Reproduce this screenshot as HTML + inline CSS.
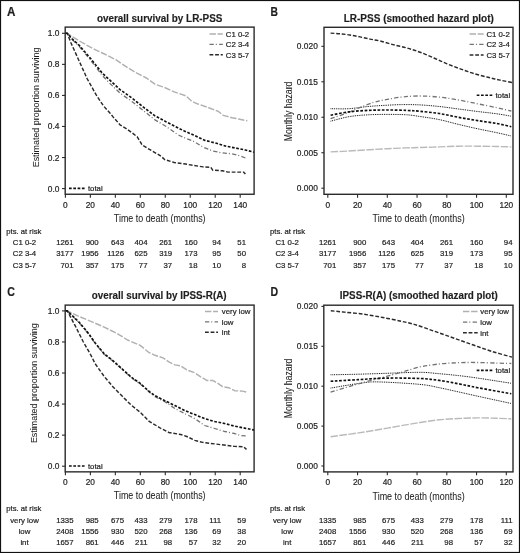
<!DOCTYPE html><html><head><meta charset="utf-8"><style>html,body{margin:0;padding:0;background:#fff}svg{display:block}text{font-family:"Liberation Sans",sans-serif;fill:#1e1e1e;stroke:#1e1e1e;stroke-width:0.2px}</style></head><body>
<svg width="520" height="553" viewBox="0 0 520 553">
<rect x="0" y="0" width="520" height="553" fill="#fff"/>
<g style="filter:blur(0.3px)">
<text x="0" y="0" font-size="12" font-weight="bold" fill="#111" transform="translate(6.9,15.8) scale(0.97,1)">A</text>
<text x="0" y="0" font-size="12" font-weight="bold" fill="#111" transform="translate(270.4,15.8) scale(0.86,1)">B</text>
<text x="0" y="0" font-size="12" font-weight="bold" fill="#111" transform="translate(7.2,295.6) scale(0.88,1)">C</text>
<text x="0" y="0" font-size="12" font-weight="bold" fill="#111" transform="translate(270.4,295.6) scale(0.88,1)">D</text>
<clipPath id="clip0"><rect x="65.2" y="27.1" width="188.89999999999998" height="167.15"/></clipPath>
<path d="M65.50,33.30 L67.30,33.40 L73.50,37.40 L81.20,42.00 L88.90,46.40 L96.60,50.30 L102.30,53.00 L115.80,59.70 L127.30,67.40 L136.90,73.20 L146.50,78.00 L155.00,84.20 L164.60,87.50 L174.20,91.90 L185.80,95.80 L191.50,101.00 L197.30,103.80 L208.80,107.70 L218.50,111.50 L223.30,115.40 L231.90,117.70 L239.60,119.20 L247.30,120.80" fill="none" stroke="#b0b0b0" stroke-width="1.45" stroke-dasharray="6.4 1.7" stroke-linejoin="round" clip-path="url(#clip0)"/>
<path d="M65.50,33.30 L67.30,33.40 L72.00,39.30 L79.20,46.30 L90.80,60.50 L102.30,75.50 L110.00,83.50 L120.00,93.10 L131.50,101.20 L143.10,110.40 L154.60,119.60 L166.20,126.50 L177.70,134.60 L183.80,137.50 L193.50,141.30 L203.10,147.10 L212.70,151.00 L222.30,152.90 L231.90,153.80 L239.60,155.80 L247.30,158.70" fill="none" stroke="#737373" stroke-width="1.3" stroke-dasharray="4.3 2 1 2.3" stroke-linejoin="round" clip-path="url(#clip0)"/>
<path d="M65.50,33.30 L67.30,33.40 L70.80,42.50 L78.10,58.70 L87.10,78.60 L96.20,94.90 L103.40,105.80 L109.90,113.00 L113.10,116.90 L120.00,124.80 L125.80,128.30 L131.50,132.30 L137.30,136.90 L140.80,142.70 L141.90,144.80 L151.50,150.60 L161.20,156.30 L164.60,159.60 L166.90,160.20 L174.20,162.50 L183.80,163.80 L193.50,165.40 L203.10,166.90 L210.80,167.30 L212.70,170.20 L222.30,170.80 L228.10,172.10 L243.50,172.10 L245.40,174.00" fill="none" stroke="#2a2a2a" stroke-width="1.45" stroke-dasharray="3.8 1.8" stroke-linejoin="round" clip-path="url(#clip0)"/>
<path d="M65.50,33.30 L67.30,33.40 L72.00,38.80 L79.20,45.30 L90.80,58.80 L102.30,73.20 L113.80,83.80 L120.00,89.60 L131.50,97.70 L143.10,106.90 L154.60,115.60 L166.20,121.90 L177.70,127.70 L183.80,130.80 L193.50,135.00 L205.00,140.40 L216.50,143.30 L226.20,146.20 L235.80,148.10 L245.40,150.00 L254.00,152.20" fill="none" stroke="#111" stroke-width="1.65" stroke-dasharray="2.7 1.6" stroke-linejoin="round" clip-path="url(#clip0)"/>
<rect x="65.2" y="27.1" width="188.89999999999998" height="167.15" fill="none" stroke="#2a2a2a" stroke-width="1.4"/>
<line x1="62.00" y1="188.60" x2="65.20" y2="188.60" stroke="#2a2a2a" stroke-width="1.1" />
<text x="59.40" y="191.60" font-size="8.4" text-anchor="end" >0.0</text>
<line x1="62.00" y1="157.54" x2="65.20" y2="157.54" stroke="#2a2a2a" stroke-width="1.1" />
<text x="59.40" y="160.54" font-size="8.4" text-anchor="end" >0.2</text>
<line x1="62.00" y1="126.48" x2="65.20" y2="126.48" stroke="#2a2a2a" stroke-width="1.1" />
<text x="59.40" y="129.48" font-size="8.4" text-anchor="end" >0.4</text>
<line x1="62.00" y1="95.42" x2="65.20" y2="95.42" stroke="#2a2a2a" stroke-width="1.1" />
<text x="59.40" y="98.42" font-size="8.4" text-anchor="end" >0.6</text>
<line x1="62.00" y1="64.36" x2="65.20" y2="64.36" stroke="#2a2a2a" stroke-width="1.1" />
<text x="59.40" y="67.36" font-size="8.4" text-anchor="end" >0.8</text>
<line x1="62.00" y1="33.30" x2="65.20" y2="33.30" stroke="#2a2a2a" stroke-width="1.1" />
<text x="59.40" y="36.30" font-size="8.4" text-anchor="end" >1.0</text>
<line x1="65.40" y1="194.25" x2="65.40" y2="197.65" stroke="#2a2a2a" stroke-width="1.1" />
<text x="65.40" y="207.80" font-size="8.3" text-anchor="middle" >0</text>
<line x1="90.37" y1="194.25" x2="90.37" y2="197.65" stroke="#2a2a2a" stroke-width="1.1" />
<text x="90.37" y="207.80" font-size="8.3" text-anchor="middle" >20</text>
<line x1="115.34" y1="194.25" x2="115.34" y2="197.65" stroke="#2a2a2a" stroke-width="1.1" />
<text x="115.34" y="207.80" font-size="8.3" text-anchor="middle" >40</text>
<line x1="140.31" y1="194.25" x2="140.31" y2="197.65" stroke="#2a2a2a" stroke-width="1.1" />
<text x="140.31" y="207.80" font-size="8.3" text-anchor="middle" >60</text>
<line x1="165.28" y1="194.25" x2="165.28" y2="197.65" stroke="#2a2a2a" stroke-width="1.1" />
<text x="165.28" y="207.80" font-size="8.3" text-anchor="middle" >80</text>
<line x1="190.25" y1="194.25" x2="190.25" y2="197.65" stroke="#2a2a2a" stroke-width="1.1" />
<text x="190.25" y="207.80" font-size="8.3" text-anchor="middle" >100</text>
<line x1="215.22" y1="194.25" x2="215.22" y2="197.65" stroke="#2a2a2a" stroke-width="1.1" />
<text x="215.22" y="207.80" font-size="8.3" text-anchor="middle" >120</text>
<line x1="240.19" y1="194.25" x2="240.19" y2="197.65" stroke="#2a2a2a" stroke-width="1.1" />
<text x="240.19" y="207.80" font-size="8.3" text-anchor="middle" >140</text>
<text x="159.70" y="21.80" font-size="10.2" text-anchor="middle" font-weight="bold" textLength="125.5" lengthAdjust="spacingAndGlyphs" style="stroke-width:0.15px">overall survival by LR-PSS</text>
<text x="159.70" y="221.60" font-size="10.3" text-anchor="middle" textLength="91.7" lengthAdjust="spacingAndGlyphs" style="stroke-width:0.05px">Time to death (months)</text>
<text x="0" y="0" font-size="9.9" text-anchor="middle" textLength="119.8" lengthAdjust="spacingAndGlyphs" style="stroke-width:0.05px" transform="translate(38.5,107.40) rotate(-90)">Estimated proportion surviving</text>
<line x1="209.5" y1="33.9" x2="222.8" y2="33.9" stroke="#b0b0b0" stroke-width="1.45" stroke-dasharray="6.4 1.7"/>
<text x="225.80" y="36.70" font-size="7.8" text-anchor="start" >C1 0-2</text>
<line x1="209.5" y1="44.3" x2="222.8" y2="44.3" stroke="#737373" stroke-width="1.3" stroke-dasharray="4.3 2 1 2.3"/>
<text x="225.80" y="47.10" font-size="7.8" text-anchor="start" >C2 3-4</text>
<line x1="209.5" y1="54.7" x2="222.8" y2="54.7" stroke="#2a2a2a" stroke-width="1.45" stroke-dasharray="3.8 1.8"/>
<text x="225.80" y="57.50" font-size="7.8" text-anchor="start" >C3 5-7</text>
<line x1="69.0" y1="188.4" x2="84.8" y2="188.4" stroke="#111" stroke-width="1.65" stroke-dasharray="2.7 1.6"/>
<text x="87.90" y="191.20" font-size="7.8" text-anchor="start" >total</text>
<text x="6.30" y="233.80" font-size="7.7" text-anchor="start" >pts. at risk</text>
<text x="24.50" y="245.20" font-size="7.8" text-anchor="middle" >C1 0-2</text>
<text x="73.50" y="245.20" font-size="7.8" text-anchor="end" >1261</text>
<text x="98.70" y="245.20" font-size="7.8" text-anchor="end" >900</text>
<text x="124.00" y="245.20" font-size="7.8" text-anchor="end" >643</text>
<text x="147.50" y="245.20" font-size="7.8" text-anchor="end" >404</text>
<text x="172.20" y="245.20" font-size="7.8" text-anchor="end" >261</text>
<text x="197.50" y="245.20" font-size="7.8" text-anchor="end" >160</text>
<text x="221.00" y="245.20" font-size="7.8" text-anchor="end" >94</text>
<text x="246.00" y="245.20" font-size="7.8" text-anchor="end" >51</text>
<text x="24.50" y="256.45" font-size="7.8" text-anchor="middle" >C2 3-4</text>
<text x="73.50" y="256.45" font-size="7.8" text-anchor="end" >3177</text>
<text x="98.70" y="256.45" font-size="7.8" text-anchor="end" >1956</text>
<text x="124.00" y="256.45" font-size="7.8" text-anchor="end" >1126</text>
<text x="147.50" y="256.45" font-size="7.8" text-anchor="end" >625</text>
<text x="172.20" y="256.45" font-size="7.8" text-anchor="end" >319</text>
<text x="197.50" y="256.45" font-size="7.8" text-anchor="end" >173</text>
<text x="221.00" y="256.45" font-size="7.8" text-anchor="end" >95</text>
<text x="246.00" y="256.45" font-size="7.8" text-anchor="end" >50</text>
<text x="24.50" y="267.70" font-size="7.8" text-anchor="middle" >C3 5-7</text>
<text x="73.50" y="267.70" font-size="7.8" text-anchor="end" >701</text>
<text x="98.70" y="267.70" font-size="7.8" text-anchor="end" >357</text>
<text x="124.00" y="267.70" font-size="7.8" text-anchor="end" >175</text>
<text x="147.50" y="267.70" font-size="7.8" text-anchor="end" >77</text>
<text x="172.20" y="267.70" font-size="7.8" text-anchor="end" >37</text>
<text x="197.50" y="267.70" font-size="7.8" text-anchor="end" >18</text>
<text x="221.00" y="267.70" font-size="7.8" text-anchor="end" >10</text>
<text x="246.00" y="267.70" font-size="7.8" text-anchor="end" >8</text>
<clipPath id="clip277"><rect x="65.2" y="305.1" width="188.89999999999998" height="166.75"/></clipPath>
<path d="M65.50,310.80 L67.30,310.90 L79.20,316.50 L90.80,321.30 L104.20,327.10 L117.70,333.80 L127.50,340.00 L140.20,345.40 L149.20,352.70 L155.00,355.30 L163.00,357.90 L168.90,361.90 L174.90,364.90 L180.80,365.90 L186.80,369.90 L194.80,372.80 L200.70,376.80 L206.70,380.40 L212.70,380.40 L218.60,383.80 L222.60,386.70 L228.60,387.70 L234.50,390.70 L242.50,391.10 L247.40,392.30" fill="none" stroke="#b0b0b0" stroke-width="1.45" stroke-dasharray="6.4 1.7" stroke-linejoin="round" clip-path="url(#clip277)"/>
<path d="M65.50,310.80 L67.30,310.90 L79.20,322.80 L88.80,334.30 L95.00,343.20 L104.00,354.10 L113.10,361.30 L122.10,369.40 L131.20,377.60 L140.20,384.00 L149.20,392.00 L155.00,396.70 L164.90,401.70 L174.90,408.60 L184.80,413.60 L194.80,418.60 L204.70,425.50 L214.60,428.50 L224.60,431.50 L234.50,433.50 L240.50,435.50 L247.40,435.90" fill="none" stroke="#737373" stroke-width="1.3" stroke-dasharray="4.3 2 1 2.3" stroke-linejoin="round" clip-path="url(#clip277)"/>
<path d="M65.50,310.80 L67.30,310.90 L75.40,326.20 L83.10,341.50 L90.80,355.00 L95.00,363.50 L104.00,376.20 L113.10,387.00 L122.10,396.10 L131.20,405.10 L140.20,412.30 L149.20,421.40 L158.30,426.80 L161.00,428.50 L168.90,432.50 L180.80,434.50 L186.80,436.50 L194.80,440.40 L202.70,442.40 L210.70,443.40 L218.60,444.40 L226.60,445.40 L234.50,446.40 L243.50,446.80 L246.50,449.40" fill="none" stroke="#2a2a2a" stroke-width="1.45" stroke-dasharray="3.8 1.8" stroke-linejoin="round" clip-path="url(#clip277)"/>
<path d="M65.50,310.80 L67.30,310.90 L79.20,322.30 L88.80,333.80 L95.00,342.70 L104.00,353.60 L113.10,360.80 L122.10,368.90 L131.20,377.10 L140.20,383.40 L149.20,391.50 L155.00,395.70 L164.90,400.70 L174.90,405.60 L184.80,410.60 L194.80,414.60 L204.70,418.60 L214.60,421.50 L224.60,423.50 L234.50,426.10 L244.50,428.10 L254.40,430.10" fill="none" stroke="#111" stroke-width="1.65" stroke-dasharray="2.7 1.6" stroke-linejoin="round" clip-path="url(#clip277)"/>
<rect x="65.2" y="305.1" width="188.89999999999998" height="166.75" fill="none" stroke="#2a2a2a" stroke-width="1.4"/>
<line x1="62.00" y1="466.20" x2="65.20" y2="466.20" stroke="#2a2a2a" stroke-width="1.1" />
<text x="59.40" y="469.20" font-size="8.4" text-anchor="end" >0.0</text>
<line x1="62.00" y1="435.14" x2="65.20" y2="435.14" stroke="#2a2a2a" stroke-width="1.1" />
<text x="59.40" y="438.14" font-size="8.4" text-anchor="end" >0.2</text>
<line x1="62.00" y1="404.08" x2="65.20" y2="404.08" stroke="#2a2a2a" stroke-width="1.1" />
<text x="59.40" y="407.08" font-size="8.4" text-anchor="end" >0.4</text>
<line x1="62.00" y1="373.02" x2="65.20" y2="373.02" stroke="#2a2a2a" stroke-width="1.1" />
<text x="59.40" y="376.02" font-size="8.4" text-anchor="end" >0.6</text>
<line x1="62.00" y1="341.96" x2="65.20" y2="341.96" stroke="#2a2a2a" stroke-width="1.1" />
<text x="59.40" y="344.96" font-size="8.4" text-anchor="end" >0.8</text>
<line x1="62.00" y1="310.90" x2="65.20" y2="310.90" stroke="#2a2a2a" stroke-width="1.1" />
<text x="59.40" y="313.90" font-size="8.4" text-anchor="end" >1.0</text>
<line x1="65.40" y1="471.85" x2="65.40" y2="475.25" stroke="#2a2a2a" stroke-width="1.1" />
<text x="65.40" y="485.40" font-size="8.3" text-anchor="middle" >0</text>
<line x1="90.37" y1="471.85" x2="90.37" y2="475.25" stroke="#2a2a2a" stroke-width="1.1" />
<text x="90.37" y="485.40" font-size="8.3" text-anchor="middle" >20</text>
<line x1="115.34" y1="471.85" x2="115.34" y2="475.25" stroke="#2a2a2a" stroke-width="1.1" />
<text x="115.34" y="485.40" font-size="8.3" text-anchor="middle" >40</text>
<line x1="140.31" y1="471.85" x2="140.31" y2="475.25" stroke="#2a2a2a" stroke-width="1.1" />
<text x="140.31" y="485.40" font-size="8.3" text-anchor="middle" >60</text>
<line x1="165.28" y1="471.85" x2="165.28" y2="475.25" stroke="#2a2a2a" stroke-width="1.1" />
<text x="165.28" y="485.40" font-size="8.3" text-anchor="middle" >80</text>
<line x1="190.25" y1="471.85" x2="190.25" y2="475.25" stroke="#2a2a2a" stroke-width="1.1" />
<text x="190.25" y="485.40" font-size="8.3" text-anchor="middle" >100</text>
<line x1="215.22" y1="471.85" x2="215.22" y2="475.25" stroke="#2a2a2a" stroke-width="1.1" />
<text x="215.22" y="485.40" font-size="8.3" text-anchor="middle" >120</text>
<line x1="240.19" y1="471.85" x2="240.19" y2="475.25" stroke="#2a2a2a" stroke-width="1.1" />
<text x="240.19" y="485.40" font-size="8.3" text-anchor="middle" >140</text>
<text x="159.20" y="299.40" font-size="10.2" text-anchor="middle" font-weight="bold" textLength="134.8" lengthAdjust="spacingAndGlyphs" style="stroke-width:0.15px">overall survival by IPSS-R(A)</text>
<text x="159.70" y="499.20" font-size="10.3" text-anchor="middle" textLength="91.7" lengthAdjust="spacingAndGlyphs" style="stroke-width:0.05px">Time to death (months)</text>
<text x="0" y="0" font-size="9.9" text-anchor="middle" textLength="119.8" lengthAdjust="spacingAndGlyphs" style="stroke-width:0.05px" transform="translate(36.7,383.20) rotate(-90)">Estimated proportion surviving</text>
<line x1="205.0" y1="311.5" x2="218.0" y2="311.5" stroke="#b0b0b0" stroke-width="1.45" stroke-dasharray="6.4 1.7"/>
<text x="221.80" y="314.30" font-size="7.8" text-anchor="start" >very low</text>
<line x1="205.0" y1="321.9" x2="218.0" y2="321.9" stroke="#737373" stroke-width="1.3" stroke-dasharray="4.3 2 1 2.3"/>
<text x="221.80" y="324.70" font-size="7.8" text-anchor="start" >low</text>
<line x1="205.0" y1="332.3" x2="218.0" y2="332.3" stroke="#2a2a2a" stroke-width="1.45" stroke-dasharray="3.8 1.8"/>
<text x="221.80" y="335.10" font-size="7.8" text-anchor="start" >int</text>
<line x1="69.0" y1="466.0" x2="84.8" y2="466.0" stroke="#111" stroke-width="1.65" stroke-dasharray="2.7 1.6"/>
<text x="87.90" y="468.80" font-size="7.8" text-anchor="start" >total</text>
<text x="6.30" y="511.40" font-size="7.7" text-anchor="start" >pts. at risk</text>
<text x="24.50" y="522.80" font-size="7.8" text-anchor="middle" >very low</text>
<text x="73.50" y="522.80" font-size="7.8" text-anchor="end" >1335</text>
<text x="98.70" y="522.80" font-size="7.8" text-anchor="end" >985</text>
<text x="124.00" y="522.80" font-size="7.8" text-anchor="end" >675</text>
<text x="147.50" y="522.80" font-size="7.8" text-anchor="end" >433</text>
<text x="172.20" y="522.80" font-size="7.8" text-anchor="end" >279</text>
<text x="197.50" y="522.80" font-size="7.8" text-anchor="end" >178</text>
<text x="221.00" y="522.80" font-size="7.8" text-anchor="end" >111</text>
<text x="246.00" y="522.80" font-size="7.8" text-anchor="end" >59</text>
<text x="24.50" y="534.05" font-size="7.8" text-anchor="middle" >low</text>
<text x="73.50" y="534.05" font-size="7.8" text-anchor="end" >2408</text>
<text x="98.70" y="534.05" font-size="7.8" text-anchor="end" >1556</text>
<text x="124.00" y="534.05" font-size="7.8" text-anchor="end" >930</text>
<text x="147.50" y="534.05" font-size="7.8" text-anchor="end" >520</text>
<text x="172.20" y="534.05" font-size="7.8" text-anchor="end" >268</text>
<text x="197.50" y="534.05" font-size="7.8" text-anchor="end" >136</text>
<text x="221.00" y="534.05" font-size="7.8" text-anchor="end" >69</text>
<text x="246.00" y="534.05" font-size="7.8" text-anchor="end" >38</text>
<text x="24.50" y="545.30" font-size="7.8" text-anchor="middle" >int</text>
<text x="73.50" y="545.30" font-size="7.8" text-anchor="end" >1657</text>
<text x="98.70" y="545.30" font-size="7.8" text-anchor="end" >861</text>
<text x="124.00" y="545.30" font-size="7.8" text-anchor="end" >446</text>
<text x="147.50" y="545.30" font-size="7.8" text-anchor="end" >211</text>
<text x="172.20" y="545.30" font-size="7.8" text-anchor="end" >98</text>
<text x="197.50" y="545.30" font-size="7.8" text-anchor="end" >57</text>
<text x="221.00" y="545.30" font-size="7.8" text-anchor="end" >32</text>
<text x="246.00" y="545.30" font-size="7.8" text-anchor="end" >20</text>
<clipPath id="hclip0"><rect x="324.0" y="27.3" width="189.0" height="167.0"/></clipPath>
<path d="M330.60,151.90 C333.63,151.75 342.55,151.35 348.80,151.00 C355.05,150.65 361.68,150.18 368.10,149.80 C374.52,149.42 380.90,149.02 387.30,148.70 C393.70,148.38 401.05,148.10 406.50,147.90 C411.95,147.70 414.55,147.67 420.00,147.50 C425.45,147.33 432.78,147.12 439.20,146.90 C445.62,146.68 452.08,146.32 458.50,146.20 C464.92,146.08 471.30,146.15 477.70,146.20 C484.10,146.25 491.30,146.38 496.90,146.50 C502.50,146.62 508.90,146.83 511.30,146.90" fill="none" stroke="#bababa" stroke-width="1.4" stroke-dasharray="7.5 1.45" stroke-linejoin="round" clip-path="url(#hclip0)"/>
<path d="M330.60,108.70 C333.63,108.70 342.55,109.07 348.80,108.70 C355.05,108.33 361.68,107.08 368.10,106.50 C374.52,105.92 381.53,105.52 387.30,105.20 C393.07,104.88 397.25,104.65 402.70,104.60 C408.15,104.55 413.92,104.58 420.00,104.90 C426.08,105.22 432.78,105.82 439.20,106.50 C445.62,107.18 452.08,108.17 458.50,109.00 C464.92,109.83 471.30,110.70 477.70,111.50 C484.10,112.30 491.30,113.02 496.90,113.80 C502.50,114.58 508.90,115.80 511.30,116.20" fill="none" stroke="#000" stroke-width="1.0" stroke-dasharray="0.9 0.9" stroke-linejoin="round" clip-path="url(#hclip0)"/>
<path d="M330.60,121.20 C333.63,120.45 342.55,117.77 348.80,116.70 C355.05,115.63 361.68,115.18 368.10,114.80 C374.52,114.42 380.90,114.40 387.30,114.40 C393.70,114.40 401.05,114.45 406.50,114.80 C411.95,115.15 414.55,115.70 420.00,116.50 C425.45,117.30 432.78,118.28 439.20,119.60 C445.62,120.92 452.08,122.87 458.50,124.40 C464.92,125.93 471.30,127.42 477.70,128.80 C484.10,130.18 491.30,131.50 496.90,132.70 C502.50,133.90 508.90,135.45 511.30,136.00" fill="none" stroke="#000" stroke-width="1.0" stroke-dasharray="0.9 0.9" stroke-linejoin="round" clip-path="url(#hclip0)"/>
<path d="M330.60,118.70 C333.00,117.88 340.35,115.57 345.00,113.80 C349.65,112.03 353.70,110.02 358.50,108.10 C363.30,106.18 369.00,103.75 373.80,102.30 C378.60,100.85 382.48,100.30 387.30,99.40 C392.12,98.50 397.25,97.47 402.70,96.90 C408.15,96.33 413.92,95.97 420.00,96.00 C426.08,96.03 432.78,96.43 439.20,97.10 C445.62,97.77 452.08,98.88 458.50,100.00 C464.92,101.12 471.30,102.52 477.70,103.80 C484.10,105.08 491.30,106.50 496.90,107.70 C502.50,108.90 508.90,110.45 511.30,111.00" fill="none" stroke="#737373" stroke-width="1.3" stroke-dasharray="4.3 2 1 2.3" stroke-linejoin="round" clip-path="url(#hclip0)"/>
<path d="M330.60,115.20 C333.63,114.65 342.55,112.70 348.80,111.90 C355.05,111.10 361.68,110.72 368.10,110.40 C374.52,110.08 380.90,110.00 387.30,110.00 C393.70,110.00 401.05,110.18 406.50,110.40 C411.95,110.62 414.55,110.78 420.00,111.30 C425.45,111.82 432.78,112.50 439.20,113.50 C445.62,114.50 452.08,116.12 458.50,117.30 C464.92,118.48 471.30,119.57 477.70,120.60 C484.10,121.63 491.30,122.48 496.90,123.50 C502.50,124.52 508.90,126.17 511.30,126.70" fill="none" stroke="#111" stroke-width="1.65" stroke-dasharray="2.7 1.6" stroke-linejoin="round" clip-path="url(#hclip0)"/>
<path d="M330.60,33.10 C332.17,33.22 336.77,33.48 340.00,33.80 C343.23,34.12 346.67,34.48 350.00,35.00 C353.33,35.52 356.67,36.22 360.00,36.90 C363.33,37.58 366.67,38.42 370.00,39.10 C373.33,39.78 376.17,40.08 380.00,41.00 C383.83,41.92 388.50,43.43 393.00,44.60 C397.50,45.77 402.50,46.73 407.00,48.00 C411.50,49.27 415.50,50.53 420.00,52.20 C424.50,53.87 429.50,56.07 434.00,58.00 C438.50,59.93 442.50,61.95 447.00,63.80 C451.50,65.65 456.50,67.47 461.00,69.10 C465.50,70.73 469.50,72.23 474.00,73.60 C478.50,74.97 483.67,76.22 488.00,77.30 C492.33,78.38 495.83,79.20 500.00,80.10 C504.17,81.00 510.83,82.27 513.00,82.70" fill="none" stroke="#2a2a2a" stroke-width="1.45" stroke-dasharray="3.8 1.8" stroke-linejoin="round" clip-path="url(#hclip0)"/>
<rect x="324.0" y="27.3" width="189.0" height="167.0" fill="none" stroke="#2a2a2a" stroke-width="1.4"/>
<line x1="321.40" y1="188.20" x2="324.00" y2="188.20" stroke="#2a2a2a" stroke-width="1.1" />
<text x="317.80" y="191.20" font-size="8.4" text-anchor="end" >0.000</text>
<line x1="321.40" y1="152.73" x2="324.00" y2="152.73" stroke="#2a2a2a" stroke-width="1.1" />
<text x="317.80" y="155.73" font-size="8.4" text-anchor="end" >0.005</text>
<line x1="321.40" y1="117.26" x2="324.00" y2="117.26" stroke="#2a2a2a" stroke-width="1.1" />
<text x="317.80" y="120.26" font-size="8.4" text-anchor="end" >0.010</text>
<line x1="321.40" y1="81.79" x2="324.00" y2="81.79" stroke="#2a2a2a" stroke-width="1.1" />
<text x="317.80" y="84.79" font-size="8.4" text-anchor="end" >0.015</text>
<line x1="321.40" y1="46.32" x2="324.00" y2="46.32" stroke="#2a2a2a" stroke-width="1.1" />
<text x="317.80" y="49.32" font-size="8.4" text-anchor="end" >0.020</text>
<line x1="327.80" y1="194.30" x2="327.80" y2="197.70" stroke="#2a2a2a" stroke-width="1.1" />
<text x="327.80" y="207.80" font-size="8.3" text-anchor="middle" >0</text>
<line x1="357.55" y1="194.30" x2="357.55" y2="197.70" stroke="#2a2a2a" stroke-width="1.1" />
<text x="357.55" y="207.80" font-size="8.3" text-anchor="middle" >20</text>
<line x1="387.30" y1="194.30" x2="387.30" y2="197.70" stroke="#2a2a2a" stroke-width="1.1" />
<text x="387.30" y="207.80" font-size="8.3" text-anchor="middle" >40</text>
<line x1="417.05" y1="194.30" x2="417.05" y2="197.70" stroke="#2a2a2a" stroke-width="1.1" />
<text x="417.05" y="207.80" font-size="8.3" text-anchor="middle" >60</text>
<line x1="446.80" y1="194.30" x2="446.80" y2="197.70" stroke="#2a2a2a" stroke-width="1.1" />
<text x="446.80" y="207.80" font-size="8.3" text-anchor="middle" >80</text>
<line x1="476.55" y1="194.30" x2="476.55" y2="197.70" stroke="#2a2a2a" stroke-width="1.1" />
<text x="476.55" y="207.80" font-size="8.3" text-anchor="middle" >100</text>
<line x1="506.30" y1="194.30" x2="506.30" y2="197.70" stroke="#2a2a2a" stroke-width="1.1" />
<text x="506.30" y="207.80" font-size="8.3" text-anchor="middle" >120</text>
<text x="418.80" y="21.80" font-size="10.2" text-anchor="middle" font-weight="bold" textLength="150.2" lengthAdjust="spacingAndGlyphs" style="stroke-width:0.15px">LR-PSS (smoothed hazard plot)</text>
<text x="418.60" y="221.90" font-size="10.3" text-anchor="middle" textLength="92.1" lengthAdjust="spacingAndGlyphs" style="stroke-width:0.05px">Time to death (months)</text>
<text x="0" y="0" font-size="10.3" text-anchor="middle" textLength="59.8" lengthAdjust="spacingAndGlyphs" style="stroke-width:0.05px" transform="translate(291.6,111.45) rotate(-90)">Monthly hazard</text>
<line x1="469.6" y1="33.9" x2="483.6" y2="33.9" stroke="#b0b0b0" stroke-width="1.45" stroke-dasharray="6.4 1.7"/>
<text x="486.40" y="36.70" font-size="7.8" text-anchor="start" >C1 0-2</text>
<line x1="469.6" y1="44.4" x2="483.6" y2="44.4" stroke="#737373" stroke-width="1.3" stroke-dasharray="4.3 2 1 2.3"/>
<text x="486.40" y="47.20" font-size="7.8" text-anchor="start" >C2 3-4</text>
<line x1="469.6" y1="54.9" x2="483.6" y2="54.9" stroke="#2a2a2a" stroke-width="1.45" stroke-dasharray="3.8 1.8"/>
<text x="486.40" y="57.70" font-size="7.8" text-anchor="start" >C3 5-7</text>
<line x1="476.7" y1="95.2" x2="492.4" y2="95.2" stroke="#111" stroke-width="1.65" stroke-dasharray="2.7 1.6"/>
<text x="495.40" y="98.00" font-size="7.8" text-anchor="start" >total</text>
<text x="270.00" y="233.80" font-size="7.7" text-anchor="start" >pts. at risk</text>
<text x="287.20" y="245.20" font-size="7.8" text-anchor="middle" >C1 0-2</text>
<text x="336.30" y="245.20" font-size="7.8" text-anchor="end" >1261</text>
<text x="366.30" y="245.20" font-size="7.8" text-anchor="end" >900</text>
<text x="395.00" y="245.20" font-size="7.8" text-anchor="end" >643</text>
<text x="423.80" y="245.20" font-size="7.8" text-anchor="end" >404</text>
<text x="453.00" y="245.20" font-size="7.8" text-anchor="end" >261</text>
<text x="483.00" y="245.20" font-size="7.8" text-anchor="end" >160</text>
<text x="512.50" y="245.20" font-size="7.8" text-anchor="end" >94</text>
<text x="287.20" y="256.45" font-size="7.8" text-anchor="middle" >C2 3-4</text>
<text x="336.30" y="256.45" font-size="7.8" text-anchor="end" >3177</text>
<text x="366.30" y="256.45" font-size="7.8" text-anchor="end" >1956</text>
<text x="395.00" y="256.45" font-size="7.8" text-anchor="end" >1126</text>
<text x="423.80" y="256.45" font-size="7.8" text-anchor="end" >625</text>
<text x="453.00" y="256.45" font-size="7.8" text-anchor="end" >319</text>
<text x="483.00" y="256.45" font-size="7.8" text-anchor="end" >173</text>
<text x="512.50" y="256.45" font-size="7.8" text-anchor="end" >95</text>
<text x="287.20" y="267.70" font-size="7.8" text-anchor="middle" >C3 5-7</text>
<text x="336.30" y="267.70" font-size="7.8" text-anchor="end" >701</text>
<text x="366.30" y="267.70" font-size="7.8" text-anchor="end" >357</text>
<text x="395.00" y="267.70" font-size="7.8" text-anchor="end" >175</text>
<text x="423.80" y="267.70" font-size="7.8" text-anchor="end" >77</text>
<text x="453.00" y="267.70" font-size="7.8" text-anchor="end" >37</text>
<text x="483.00" y="267.70" font-size="7.8" text-anchor="end" >18</text>
<text x="512.50" y="267.70" font-size="7.8" text-anchor="end" >10</text>
<clipPath id="hclip277"><rect x="323.8" y="305.20000000000005" width="189.2" height="166.7"/></clipPath>
<path d="M330.60,436.70 C335.25,436.07 349.05,434.33 358.50,432.90 C367.95,431.47 377.05,429.83 387.30,428.10 C397.55,426.37 411.35,423.88 420.00,422.50 C428.65,421.12 432.78,420.47 439.20,419.80 C445.62,419.13 452.08,418.82 458.50,418.50 C464.92,418.18 471.30,417.93 477.70,417.90 C484.10,417.87 491.30,418.15 496.90,418.30 C502.50,418.45 508.90,418.72 511.30,418.80" fill="none" stroke="#bababa" stroke-width="1.4" stroke-dasharray="7.5 1.45" stroke-linejoin="round" clip-path="url(#hclip277)"/>
<path d="M330.60,374.80 C335.25,374.70 349.05,374.45 358.50,374.20 C367.95,373.95 377.05,373.62 387.30,373.30 C397.55,372.98 411.35,372.23 420.00,372.30 C428.65,372.37 432.78,373.15 439.20,373.70 C445.62,374.25 452.08,374.87 458.50,375.60 C464.92,376.33 468.90,376.82 477.70,378.10 C486.50,379.38 505.70,382.43 511.30,383.30" fill="none" stroke="#000" stroke-width="1.0" stroke-dasharray="0.9 0.9" stroke-linejoin="round" clip-path="url(#hclip277)"/>
<path d="M330.60,388.10 C335.25,387.33 350.65,384.53 358.50,383.50 C366.35,382.47 367.45,381.75 377.70,381.90 C387.95,382.05 409.75,383.43 420.00,384.40 C430.25,385.37 432.78,386.45 439.20,387.70 C445.62,388.95 452.08,390.48 458.50,391.90 C464.92,393.32 468.90,394.27 477.70,396.20 C486.50,398.13 505.70,402.28 511.30,403.50" fill="none" stroke="#000" stroke-width="1.0" stroke-dasharray="0.9 0.9" stroke-linejoin="round" clip-path="url(#hclip277)"/>
<path d="M330.60,392.10 C335.25,390.72 349.05,386.45 358.50,383.80 C367.95,381.15 379.93,378.18 387.30,376.20 C394.67,374.22 397.25,373.45 402.70,371.90 C408.15,370.35 413.92,368.22 420.00,366.90 C426.08,365.58 432.78,364.70 439.20,364.00 C445.62,363.30 452.08,362.95 458.50,362.70 C464.92,362.45 471.30,362.43 477.70,362.50 C484.10,362.57 491.30,362.93 496.90,363.10 C502.50,363.27 508.90,363.43 511.30,363.50" fill="none" stroke="#737373" stroke-width="1.3" stroke-dasharray="4.3 2 1 2.3" stroke-linejoin="round" clip-path="url(#hclip277)"/>
<path d="M330.60,381.30 C335.25,381.02 349.05,380.13 358.50,379.60 C367.95,379.07 377.05,378.28 387.30,378.10 C397.55,377.92 411.35,378.12 420.00,378.50 C428.65,378.88 432.78,379.52 439.20,380.40 C445.62,381.28 452.08,382.58 458.50,383.80 C464.92,385.02 468.90,386.03 477.70,387.70 C486.50,389.37 505.70,392.78 511.30,393.80" fill="none" stroke="#111" stroke-width="1.65" stroke-dasharray="2.7 1.6" stroke-linejoin="round" clip-path="url(#hclip277)"/>
<path d="M330.80,310.80 C333.03,311.02 338.75,311.53 344.20,312.10 C349.65,312.67 357.08,313.30 363.50,314.20 C369.92,315.10 376.30,316.30 382.70,317.50 C389.10,318.70 396.52,320.22 401.90,321.40 C407.28,322.58 409.62,322.97 415.00,324.60 C420.38,326.23 427.78,328.97 434.20,331.20 C440.62,333.43 447.08,335.73 453.50,338.00 C459.92,340.27 466.30,342.57 472.70,344.80 C479.10,347.03 485.35,349.35 491.90,351.40 C498.45,353.45 508.65,356.15 512.00,357.10" fill="none" stroke="#2a2a2a" stroke-width="1.45" stroke-dasharray="3.8 1.8" stroke-linejoin="round" clip-path="url(#hclip277)"/>
<rect x="323.8" y="305.20000000000005" width="189.2" height="166.7" fill="none" stroke="#2a2a2a" stroke-width="1.4"/>
<line x1="321.40" y1="466.00" x2="323.80" y2="466.00" stroke="#2a2a2a" stroke-width="1.1" />
<text x="317.80" y="469.00" font-size="8.4" text-anchor="end" >0.000</text>
<line x1="321.40" y1="426.10" x2="323.80" y2="426.10" stroke="#2a2a2a" stroke-width="1.1" />
<text x="317.80" y="429.10" font-size="8.4" text-anchor="end" >0.005</text>
<line x1="321.40" y1="386.20" x2="323.80" y2="386.20" stroke="#2a2a2a" stroke-width="1.1" />
<text x="317.80" y="389.20" font-size="8.4" text-anchor="end" >0.010</text>
<line x1="321.40" y1="346.30" x2="323.80" y2="346.30" stroke="#2a2a2a" stroke-width="1.1" />
<text x="317.80" y="349.30" font-size="8.4" text-anchor="end" >0.015</text>
<line x1="321.40" y1="306.40" x2="323.80" y2="306.40" stroke="#2a2a2a" stroke-width="1.1" />
<text x="317.80" y="309.40" font-size="8.4" text-anchor="end" >0.020</text>
<line x1="327.80" y1="471.90" x2="327.80" y2="475.30" stroke="#2a2a2a" stroke-width="1.1" />
<text x="327.80" y="485.40" font-size="8.3" text-anchor="middle" >0</text>
<line x1="357.55" y1="471.90" x2="357.55" y2="475.30" stroke="#2a2a2a" stroke-width="1.1" />
<text x="357.55" y="485.40" font-size="8.3" text-anchor="middle" >20</text>
<line x1="387.30" y1="471.90" x2="387.30" y2="475.30" stroke="#2a2a2a" stroke-width="1.1" />
<text x="387.30" y="485.40" font-size="8.3" text-anchor="middle" >40</text>
<line x1="417.05" y1="471.90" x2="417.05" y2="475.30" stroke="#2a2a2a" stroke-width="1.1" />
<text x="417.05" y="485.40" font-size="8.3" text-anchor="middle" >60</text>
<line x1="446.80" y1="471.90" x2="446.80" y2="475.30" stroke="#2a2a2a" stroke-width="1.1" />
<text x="446.80" y="485.40" font-size="8.3" text-anchor="middle" >80</text>
<line x1="476.55" y1="471.90" x2="476.55" y2="475.30" stroke="#2a2a2a" stroke-width="1.1" />
<text x="476.55" y="485.40" font-size="8.3" text-anchor="middle" >100</text>
<line x1="506.30" y1="471.90" x2="506.30" y2="475.30" stroke="#2a2a2a" stroke-width="1.1" />
<text x="506.30" y="485.40" font-size="8.3" text-anchor="middle" >120</text>
<text x="418.80" y="299.40" font-size="10.2" text-anchor="middle" font-weight="bold" textLength="158.0" lengthAdjust="spacingAndGlyphs" style="stroke-width:0.15px">IPSS-R(A) (smoothed hazard plot)</text>
<text x="418.60" y="499.50" font-size="10.3" text-anchor="middle" textLength="92.1" lengthAdjust="spacingAndGlyphs" style="stroke-width:0.05px">Time to death (months)</text>
<text x="0" y="0" font-size="10.3" text-anchor="middle" textLength="59.8" lengthAdjust="spacingAndGlyphs" style="stroke-width:0.05px" transform="translate(291.6,388.45) rotate(-90)">Monthly hazard</text>
<line x1="463.0" y1="311.5" x2="477.7" y2="311.5" stroke="#b0b0b0" stroke-width="1.45" stroke-dasharray="6.4 1.7"/>
<text x="480.30" y="314.30" font-size="7.8" text-anchor="start" >very low</text>
<line x1="463.0" y1="322.15" x2="477.7" y2="322.15" stroke="#737373" stroke-width="1.3" stroke-dasharray="4.3 2 1 2.3"/>
<text x="480.30" y="324.95" font-size="7.8" text-anchor="start" >low</text>
<line x1="463.0" y1="332.8" x2="477.7" y2="332.8" stroke="#2a2a2a" stroke-width="1.45" stroke-dasharray="3.8 1.8"/>
<text x="480.30" y="335.60" font-size="7.8" text-anchor="start" >int</text>
<line x1="476.7" y1="370.4" x2="492.4" y2="370.4" stroke="#111" stroke-width="1.65" stroke-dasharray="2.7 1.6"/>
<text x="495.40" y="373.20" font-size="7.8" text-anchor="start" >total</text>
<text x="270.00" y="511.40" font-size="7.7" text-anchor="start" >pts. at risk</text>
<text x="287.20" y="522.80" font-size="7.8" text-anchor="middle" >very low</text>
<text x="336.30" y="522.80" font-size="7.8" text-anchor="end" >1335</text>
<text x="366.30" y="522.80" font-size="7.8" text-anchor="end" >985</text>
<text x="395.00" y="522.80" font-size="7.8" text-anchor="end" >675</text>
<text x="423.80" y="522.80" font-size="7.8" text-anchor="end" >433</text>
<text x="453.00" y="522.80" font-size="7.8" text-anchor="end" >279</text>
<text x="483.00" y="522.80" font-size="7.8" text-anchor="end" >178</text>
<text x="512.50" y="522.80" font-size="7.8" text-anchor="end" >111</text>
<text x="287.20" y="534.05" font-size="7.8" text-anchor="middle" >low</text>
<text x="336.30" y="534.05" font-size="7.8" text-anchor="end" >2408</text>
<text x="366.30" y="534.05" font-size="7.8" text-anchor="end" >1556</text>
<text x="395.00" y="534.05" font-size="7.8" text-anchor="end" >930</text>
<text x="423.80" y="534.05" font-size="7.8" text-anchor="end" >520</text>
<text x="453.00" y="534.05" font-size="7.8" text-anchor="end" >268</text>
<text x="483.00" y="534.05" font-size="7.8" text-anchor="end" >136</text>
<text x="512.50" y="534.05" font-size="7.8" text-anchor="end" >69</text>
<text x="287.20" y="545.30" font-size="7.8" text-anchor="middle" >int</text>
<text x="336.30" y="545.30" font-size="7.8" text-anchor="end" >1657</text>
<text x="366.30" y="545.30" font-size="7.8" text-anchor="end" >861</text>
<text x="395.00" y="545.30" font-size="7.8" text-anchor="end" >446</text>
<text x="423.80" y="545.30" font-size="7.8" text-anchor="end" >211</text>
<text x="453.00" y="545.30" font-size="7.8" text-anchor="end" >98</text>
<text x="483.00" y="545.30" font-size="7.8" text-anchor="end" >57</text>
<text x="512.50" y="545.30" font-size="7.8" text-anchor="end" >32</text>
</g>
<rect x="0.5" y="0.5" width="519" height="552" fill="none" stroke="#111" stroke-width="1.2"/>
</svg></body></html>
